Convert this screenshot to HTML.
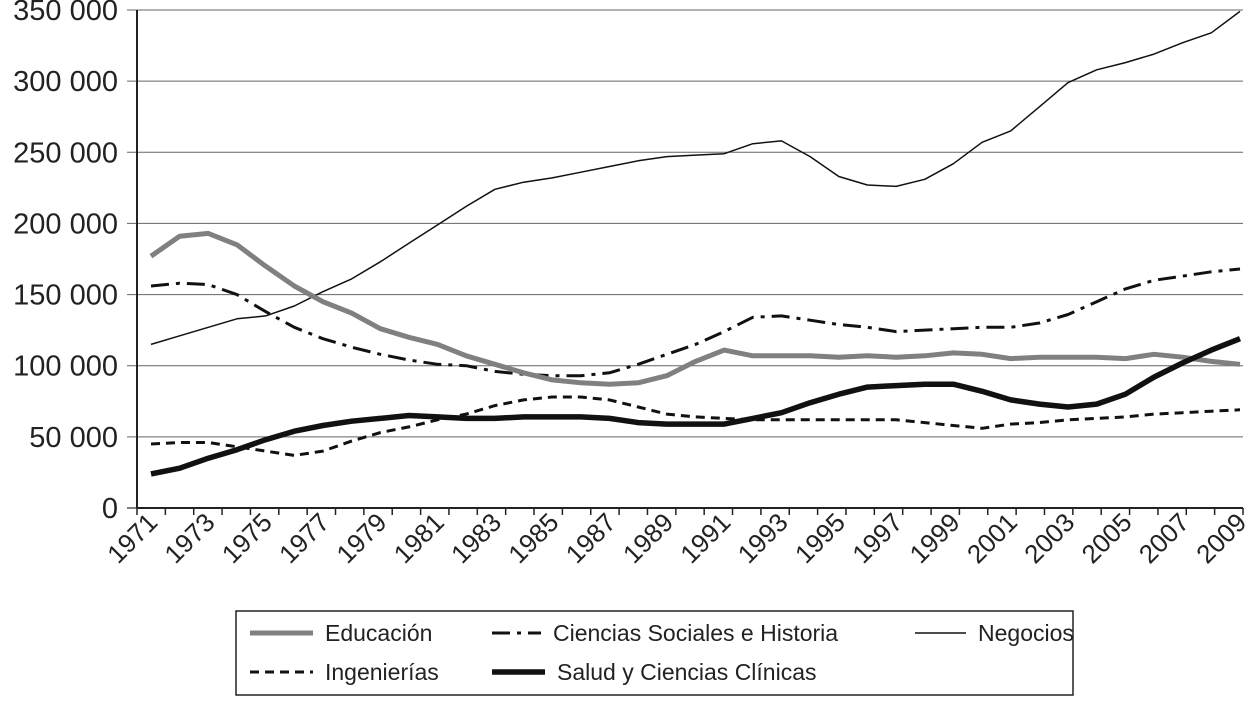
<!DOCTYPE html>
<html><head><meta charset="utf-8"><style>
body{margin:0;background:#fff;}
svg text{font-family:"Liberation Sans",sans-serif;fill:#222;}
</style></head><body>
<svg id="c" width="1255" height="697" xmlns="http://www.w3.org/2000/svg"></svg>
<script>
const years=[];for(let y=1971;y<=2009;y++)years.push(y);
const yTicks=[0,50000,100000,150000,200000,250000,300000,350000];
const yTickLabels=["0","50 000","100 000","150 000","200 000","250 000","300 000","350 000"];
const educacion=[177,191,193,185,170,156,145,137,126,120,115,107,101,95,90,88,87,88,93,103,111,107,107,107,106,107,106,107,109,108,105,106,106,106,105,108,106,103,101];
const sociales=[156,158,157,150,138,127,119,113,108,104,101,100,96,94,93,93,95,101,108,115,124,134,135,132,129,127,124,125,126,127,127,130,136,145,154,160,163,166,168];
const negocios=[115,121,127,133,135,142,152,161,173,186,199,212,224,229,232,236,240,244,247,248,249,256,258,247,233,227,226,231,242,257,265,282,299,308,313,319,327,334,349];
const ingenierias=[45,46,46,43,40,37,40,47,53,57,62,66,72,76,78,78,76,71,66,64,63,62,62,62,62,62,62,60,58,56,59,60,62,63,64,66,67,68,69];
const salud=[24,28,35,41,48,54,58,61,63,65,64,63,63,64,64,64,63,60,59,59,59,63,67,74,80,85,86,87,87,82,76,73,71,73,80,92,102,111,119];
const svg=document.getElementById('c');const NS='http://www.w3.org/2000/svg';
function el(t,a,p){const e=document.createElementNS(NS,t);for(const k in a)e.setAttribute(k,a[k]);(p||svg).appendChild(e);return e;}
const L=137,R=1243,T=10,B=508;
const xs=i=>151+i*(1240-151)/(years.length-1);
const ys=v=>B-v/350000*(B-T);
yTicks.forEach((v,i)=>{
 const g=el('line',{x1:127,x2:R,y1:ys(v),y2:ys(v),stroke:i==0?'#000':'#666','stroke-width':1});
 
 
 const t=el('text',{x:118,y:ys(v)+10,'text-anchor':'end','font-size':29});
 t.textContent=yTickLabels[i];
 
 
});
const ax=el('line',{x1:L,x2:L,y1:T,y2:B,stroke:'#222','stroke-width':2});


const bx=el('line',{x1:L,x2:R,y1:B,y2:B,stroke:'#222','stroke-width':2});


const cw=(R-L)/years.length;
for(let k=0;k<=years.length;k++){const tk=el('line',{x1:L+k*cw,x2:L+k*cw,y1:B,y2:B+7,stroke:'#222','stroke-width':1.5});
 
 }
years.forEach((y,i)=>{if(i%2)return;const x=xs(i)+8,yy=B+16;
 const t=el('text',{x:x,y:yy,'text-anchor':'end','font-size':26,transform:`rotate(-45 ${x} ${yy})`});
 t.textContent=y;
 
 });
function series(d,st,name){const p=d.map((v,i)=>(i?'L':'M')+xs(i).toFixed(1)+' '+ys(v*1000).toFixed(1)).join(' ');
 const e=el('path',Object.assign({d:p,fill:'none','stroke-linejoin':'round'},st));
 
 }
const S={edu:{stroke:'#808080','stroke-width':5},soc:{stroke:'#111','stroke-width':3,'stroke-dasharray':'18 7 4 7'},neg:{stroke:'#111','stroke-width':1.5},ing:{stroke:'#111','stroke-width':3,'stroke-dasharray':'9 6'},sal:{stroke:'#111','stroke-width':5.5}};
series(ingenierias,S.ing,'ingenierias-line');
series(sociales,S.soc,'ciencias-sociales-line');
series(negocios,S.neg,'negocios-line');
series(educacion,S.edu,'educacion-line');
series(salud,S.sal,'salud-line');
const lg=el('g',{});


el('rect',{x:236,y:611,width:837,height:84,fill:'#fff',stroke:'#222','stroke-width':1.5},lg);
const items=[[250,633,S.edu,'Educación',325],[492,633,S.soc,'Ciencias Sociales e Historia',553],[915,633,S.neg,'Negocios',978],[250,672,S.ing,'Ingenierías',325],[492,672,S.sal,'Salud y Ciencias Clínicas',557]];
items.forEach(it=>{const g=el('g',{},lg);
 
 
 el('line',Object.assign({x1:it[0],x2:it[0]+(it[4]-it[0]-12),y1:it[1],y2:it[1]},it[2]),g);
 const t=el('text',{x:it[4],y:it[1]+8,'font-size':23},g);t.textContent=it[3];});
</script>
</body></html>
